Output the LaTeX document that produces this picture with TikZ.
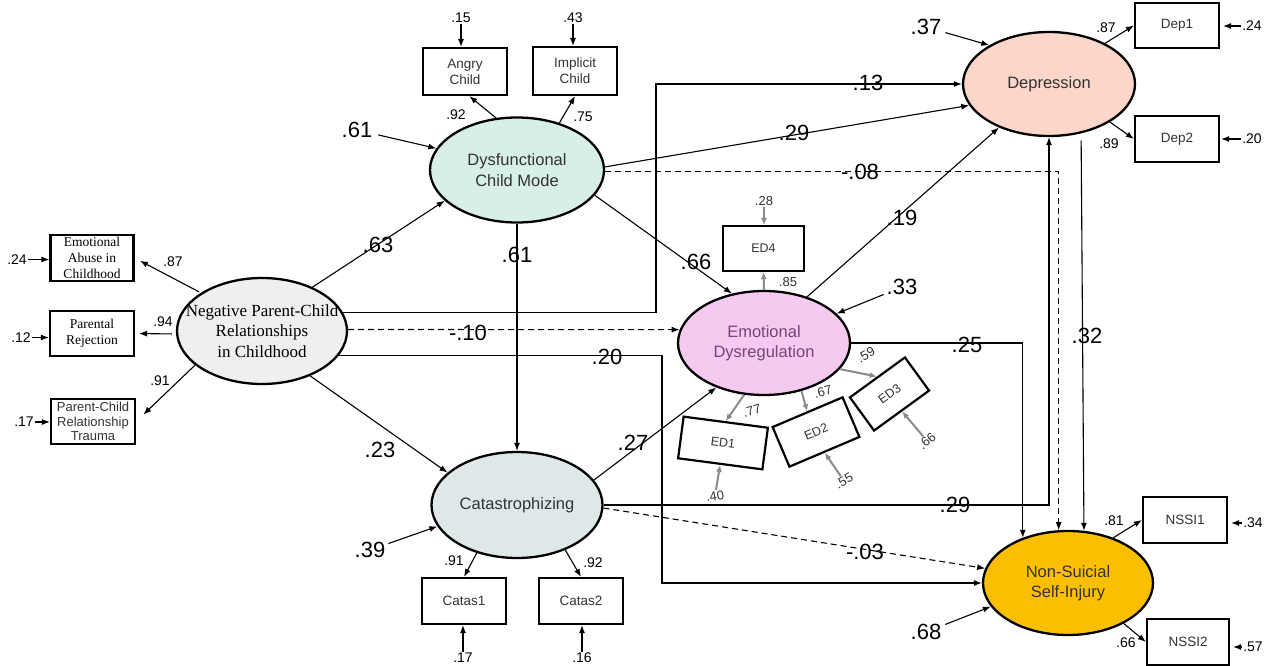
\documentclass[tikz,border=0pt]{standalone}
\usepackage{fontspec}
\setmainfont{Liberation Sans}
\newfontfamily\tnr{Liberation Serif}
\usetikzlibrary{shapes.geometric,arrows.meta}
\definecolor{cNP}{HTML}{EFEFEF}
\definecolor{cDCM}{HTML}{D8EFE8}
\definecolor{cCat}{HTML}{DEE8E8}
\definecolor{cED}{HTML}{F6C9F0}
\definecolor{cDep}{HTML}{FBD6C9}
\definecolor{cNS}{HTML}{FCBF00}
\definecolor{cEDt}{HTML}{7A437A}
\definecolor{ctxt}{HTML}{333333}
\definecolor{cg}{HTML}{8A8A8A}
\begin{document}
\begin{tikzpicture}[x=1pt,y=-1pt,
  lat/.style={ellipse, draw, line width=2.3pt, inner sep=0pt, align=center, text=ctxt,
    minimum width=172pt, minimum height=105pt, font=\fontsize{16.5}{20.5}\selectfont},
  obs/.style={rectangle, draw, line width=2.2pt, inner sep=0pt, align=center, fill=white,
    minimum width=84pt, minimum height=46pt, font=\fontsize{13.5}{16}\selectfont, text=ctxt},
  edbox/.style={obs, font=\fontsize{12.5}{15}\selectfont},
  big/.style={font=\fontsize{22}{22}\selectfont, inner sep=1pt},
  sm/.style={font=\fontsize{14}{14}\selectfont, inner sep=1pt},
  gsm/.style={font=\fontsize{13}{13}\selectfont, inner sep=1pt, text=ctxt},
  arr/.style={-{Latex[length=8pt,width=6pt]}, line width=1.1pt},
  garr/.style={-{Latex[length=7pt,width=6pt]}, line width=2pt, draw=cg},
  dsh/.style={dash pattern=on 6pt off 4pt}
]
\useasboundingbox (0,0) rectangle (1268,666);
\fill[white] (0,0) rectangle (1268,666);

% latent variables
\node[lat, fill=cNP, text=black, minimum width=170pt, minimum height=106pt, inner sep=-22pt,
  font=\tnr\fontsize{17}{20.5}\selectfont] (npcr) at (262,331) {Negative Parent-Child\\Relationships\\in Childhood};
\node[lat, fill=cDCM, minimum width=174pt, minimum height=105pt] (dcm) at (517,170) {Dysfunctional\\Child Mode};
\node[lat, fill=cCat, minimum width=171pt, minimum height=106pt] (cat) at (517,505) {Catastrophizing};
\node[lat, fill=cED, text=cEDt, minimum width=172pt, minimum height=104pt] (ed) at (764,343) {Emotional\\Dysregulation};
\node[lat, fill=cDep, minimum width=172pt, minimum height=104pt] (dep) at (1049,84) {Depression};
\node[lat, fill=cNS, minimum width=170pt, minimum height=104pt] (nssi) at (1068,583) {Non-Suicial\\Self-Injury};

% observed indicators
\node[obs, font=\tnr\fontsize{13.5}{16}\selectfont, text=black, minimum width=83pt, inner ysep=-4pt] (ea) at (92,258) {Emotional\\Abuse in\\Childhood};
\node[obs, font=\tnr\fontsize{13.5}{15.5}\selectfont, text=black, minimum height=45pt] (pr) at (92,333.5) {Parental\\Rejection};
\node[obs, font=\fontsize{13}{14.5}\selectfont, minimum height=45pt, inner ysep=-3pt] (pcrt) at (93,421.5) {Parent-Child\\Relationship\\Trauma};
\node[obs, minimum height=47pt] (ac) at (465,71.5) {Angry\\Child};
\node[obs, minimum height=48pt] (ic) at (575,71) {Implicit\\Child};
\node[obs, minimum height=45pt] (dep1) at (1177,25.5) {Dep1};
\node[obs] (dep2) at (1177,139) {Dep2};
\node[obs] (ns1) at (1185,520) {NSSI1};
\node[obs, minimum width=82pt] (ns2) at (1188,642) {NSSI2};
\node[obs] (c1) at (464,601) {Catas1};
\node[obs] (c2) at (581,601) {Catas2};
\node[edbox, minimum width=81pt, minimum height=45pt] (ed4) at (763.5,248.5) {ED4};
\node[edbox, minimum width=85pt, minimum height=42pt, rotate=-7.5] (ed1) at (723,443) {ED1};
\node[edbox, minimum width=76pt, minimum height=43pt, rotate=23] (ed2) at (816,432) {ED2};
\node[edbox, minimum width=68pt, minimum height=41pt, rotate=36] (ed3) at (889.5,394) {ED3};

% bend points
\coordinate (b13) at (656,84);
\coordinate (b20) at (662,583);

% structural paths
\draw[arr] (npcr.41) -- (dcm.203);
\draw[arr] (npcr.-43) -- (cat.155);
\draw[arr] (npcr.13) -| (b13) -- (dep.west);
\draw[arr, dsh] (npcr.1) -- (ed.171);
\draw[arr] (npcr.-18) -| (b20) -- (nssi.west);
\draw[arr] (dcm.south) -- (cat.north);
\draw[arr] (dcm.-18) -- (ed.123);
\draw[arr] (dcm.2) -- (dep.195);
\draw[arr, dsh] (dcm.-1) -| (nssi.100);
\draw[arr] (cat.18) -- (ed.223);
\draw[arr] (cat.east) -| (dep.south);
\draw[arr, dsh] (cat.-2) -- (nssi.170);
\draw[arr] (ed.47) -- (dep.221);
\draw[arr] (ed.east) -| (nssi.135);
\draw[arr, shorten <=7pt] (dep.-57) -- (nssi.73);

% loadings
\draw[arr, shorten <=2pt, shorten >=6pt] (npcr.148) -- (ea.east);
\draw[arr, shorten <=4pt, shorten >=4pt] (npcr.182) -- (pr.east);
\draw[arr, shorten >=10pt] (npcr.207) -- (pcrt.east);
\draw[arr] (dcm.112) -- (ac.-80);
\draw[arr] (dcm.48) -- (ic.south);
\draw[arr] (dep.36) -- (dep1.west);
\draw[arr] (dep.-32) -- (dep2.west);
\draw[arr] (nssi.45) -- (ns1.west);
\draw[arr] (nssi.-36) -- (ns2.west);
\draw[arr] (cat.230) -- (c1.north);
\draw[arr] (cat.-43) -- (c2.north);
\draw[garr] (ed.north) -- (ed4.south);
\draw[garr] (ed.249) -- (ed1.north);
\draw[garr] (ed.-52) -- (ed2.north);
\draw[garr] (ed.-19) -- (ed3.north);

% residuals of latent variables
\node[big] (r61) at (357,130) {.61};
\node[big] (r37) at (926,27) {.37};
\node[big] (r33) at (902,287) {.33};
\node[big] (r39) at (370,550) {.39};
\node[big] (r68) at (926,632) {.68};
\draw[arr, shorten <=5pt] (r61) -- (dcm.165);
\draw[arr, shorten <=3pt] (r37) -- (dep.147);
\draw[arr, shorten <=2pt] (r33) -- (ed.22);
\draw[arr, shorten <=2pt] (r39) -- (cat.195);
\draw[arr, shorten <=3pt] (r68) -- (nssi.197);

% residuals of indicators
\node[sm] (e24) at (17,259.5) {.24};
\node[sm] (e12) at (21,337.5) {.12};
\node[sm] (e17) at (24,422) {.17};
\draw[arr] (e24) -- (e24 -| ea.west);
\draw[arr] (e12) -- (e12 -| pr.west);
\draw[arr] (e17) -- (e17 -| pcrt.west);
\node[sm] (e15) at (461,18) {.15};
\node[sm] (e43) at (573,18) {.43};
\draw[arr] (e15) -- (e15 |- ac.north);
\draw[arr] (e43) -- (e43 |- ic.north);
\node[sm] (f24) at (1252,26) {.24};
\node[sm] (f20) at (1252,139) {.20};
\node[sm] (f34) at (1253,523) {.34};
\node[sm] (f57) at (1253,647) {.57};
\draw[arr, shorten >=3pt] (f24) -- (f24 -| dep1.east);
\draw[arr, shorten >=1pt] (f20) -- (f20 -| dep2.east);
\draw[arr, shorten >=3pt] (f34) -- (f34 -| ns1.east);
\draw[arr, shorten >=3pt] (f57) -- (f57 -| ns2.east);
\node[sm] (e17b) at (463,658) {.17};
\node[sm] (e16) at (582,658) {.16};
\draw[arr] (e17b) -- (e17b |- c1.south);
\draw[arr] (e16) -- (e16 |- c2.south);
\node[gsm] (e28) at (764,201) {.28};
\draw[garr] (e28) -- (e28 |- ed4.north);
\node[gsm, rotate=10] (e40) at (715,496) {.40};
\node[gsm, rotate=30] (e55) at (844,481) {.55};
\node[gsm, rotate=40] (e66) at (927,441) {.66};
\draw[garr] (e40) -- (ed1.south);
\draw[garr] (e55) -- (ed2.south);
\draw[garr] (e66) -- (ed3.south);

% loading labels
\node[sm] at (173,262) {.87};
\node[sm] at (163,322) {.94};
\node[sm] at (160,381) {.91};
\node[sm] at (456,115) {.92};
\node[sm] at (583,117) {.75};
\node[sm] at (1106,28) {.87};
\node[sm] at (1109,144) {.89};
\node[sm] at (1114,521) {.81};
\node[sm] at (1126,643) {.66};
\node[sm] at (454,561) {.91};
\node[sm] at (593,563) {.92};
\node[gsm] at (788,282) {.85};
\node[gsm, rotate=15] at (752,411) {.77};
\node[gsm, rotate=15] at (823,392) {.67};
\node[gsm, rotate=30] at (866,355) {.59};

% path coefficients
\node[big] at (378,245) {.63};
\node[big] at (517,255) {.61};
\node[big] at (868,83) {.13};
\node[big] at (794,133) {.29};
\node[big] at (860,172) {-.08};
\node[big] at (696,262) {.66};
\node[big] at (468,333) {-.10};
\node[big] at (607,357) {.20};
\node[big] at (380,450) {.23};
\node[big] at (633,443) {.27};
\node[big] at (902,218) {.19};
\node[big] at (967,345) {.25};
\node[big] at (1087,336) {.32};
\node[big] at (955,505) {.29};
\node[big] at (865,552) {-.03};
\end{tikzpicture}
\end{document}
